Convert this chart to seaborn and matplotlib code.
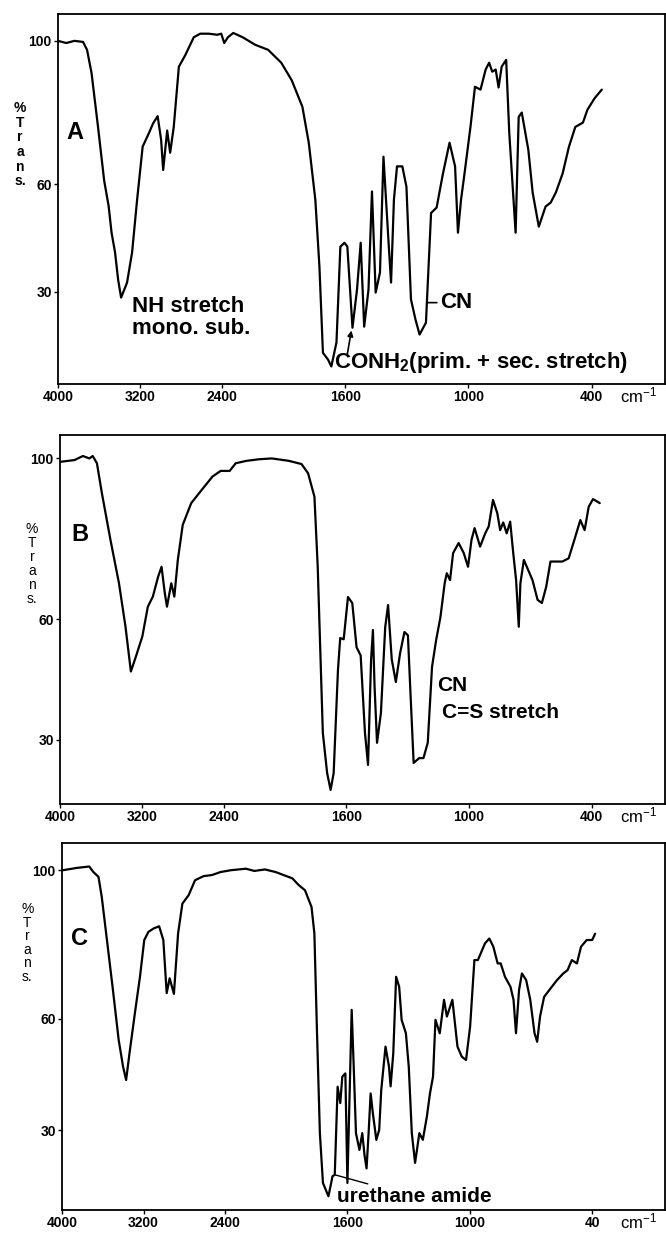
"""
IR spectra of three samples (A, B, C), % transmittance vs wavenumber.
The wavenumber axis uses the usual 2:1 scale change at 2000 cm-1.
"""

import numpy as np
import pandas as pd
import matplotlib
matplotlib.use("Agg")
import matplotlib.pyplot as plt
import seaborn as sns

# ---- spectrum A ----
A_wn = [4000, 3920, 3840, 3756, 3717, 3673, 3610, 3550, 3507, 3478, 3444, 3414, 3385, 3327, 3278,
        3229, 3175, 3112, 3073, 3029, 2995, 2975, 2936, 2907, 2872, 2822, 2760, 2677, 2614, 2531,
        2448, 2409, 2380, 2344, 2292, 2200, 2078, 1976, 1912, 1861, 1809, 1778, 1746, 1726, 1709,
        1684, 1668, 1643, 1624, 1604, 1590, 1565, 1543, 1525, 1508, 1487, 1470, 1452, 1431, 1414,
        1390, 1377, 1363, 1348, 1322, 1302, 1280, 1258, 1238, 1207, 1182, 1155, 1124, 1092, 1065,
        1051, 1036, 1019, 990, 968, 941, 916, 899, 884, 867, 853, 838, 816, 801, 770,
        755, 740, 708, 687, 657, 624, 599, 574, 541, 510, 479, 442, 420, 385, 350]
A_tr = [100, 99.4, 100, 99.7, 97.5, 91, 76, 61, 54, 46.5, 41, 33.4, 28.4, 32.6, 41,
        55.7, 70.5, 74.4, 77, 79, 72.4, 64, 75, 68.8, 76, 92.8, 96, 101, 102, 102,
        101.7, 102, 99.4, 101, 102.2, 101, 98.9, 97.5, 93.9, 89, 81.6, 71.6, 55.7, 37, 13,
        11.1, 9.2, 15.9, 42.6, 43.7, 42.6, 20, 30.6, 43.7, 20.3, 30.6, 58, 29.8, 35.4, 67.7,
        44.6, 32.6, 55.7, 65, 65, 59.3, 27.9, 22.3, 18.1, 21.4, 52, 53.5, 63, 71.6, 65,
        46.5, 55.7, 63, 76, 87.2, 86.4, 92, 93.9, 91.4, 92, 87, 92.8, 94.7, 74.4, 46.5,
        78.8, 80, 69.6, 57.7, 48.2, 53.8, 54.9, 57.7, 63, 70.5, 76, 77.2, 80.8, 84, 86.4]

# ---- spectrum B ----
B_wn = [4000, 3983, 3858, 3776, 3713, 3680, 3639, 3590, 3506, 3424, 3360, 3307, 3258, 3195, 3141,
        3092, 3041, 3007, 2975, 2954, 2912, 2882, 2848, 2800, 2717, 2614, 2509, 2429, 2341, 2282,
        2177, 2052, 1964, 1881, 1819, 1787, 1756, 1740, 1715, 1694, 1677, 1662, 1641, 1630, 1613,
        1592, 1571, 1550, 1530, 1509, 1494, 1479, 1470, 1462, 1450, 1431, 1410, 1396, 1378, 1358,
        1337, 1316, 1299, 1285, 1271, 1244, 1223, 1202, 1181, 1161, 1140, 1119, 1109, 1093, 1078,
        1051, 1026, 1005, 988, 973, 946, 921, 904, 883, 862, 848, 833, 816, 799, 784,
        770, 757, 749, 732, 711, 690, 665, 644, 623, 602, 576, 544, 513, 485, 456,
        435, 415, 394, 377, 361]
B_tr = [99, 99.1, 99.5, 100.5, 99.9, 100.5, 98.7, 91.2, 79.6, 69, 58.2, 47, 50.7, 55.7, 63.1,
        65.6, 70.5, 73, 66.4, 63.1, 68.9, 65.6, 74.7, 83.4, 88.8, 92.1, 95.4, 96.8, 96.8, 98.7,
        99.3, 99.7, 99.9, 99.3, 98.5, 96.2, 90.4, 73, 31.8, 21.8, 17.6, 21.8, 47.4, 55.3, 55,
        65.5, 64, 53, 51, 31.8, 23.8, 50, 57.3, 43.2, 29.3, 36.7, 58, 63.5, 50, 44.4,
        51.6, 56.8, 56, 40, 24.3, 25.5, 25.5, 29.3, 48.2, 54.8, 60.5, 69, 71.4, 69.7, 76.4,
        78.9, 76.4, 73, 79.7, 82.6, 78, 81.3, 83, 89.6, 86.3, 82.1, 84, 81.3, 84.2, 76.4,
        69.7, 58.1, 68.9, 74.7, 72.2, 69.7, 64.8, 64, 68, 74.3, 74.3, 74.3, 75.1, 79.7, 84.6,
        82.1, 87.9, 89.8, 89.3, 88.8]

# ---- spectrum C ----
C_wn = [4000, 3990, 3857, 3733, 3692, 3642, 3610, 3567, 3504, 3444, 3401, 3371, 3338, 3285, 3235,
        3193, 3152, 3102, 3047, 3006, 2973, 2944, 2902, 2861, 2819, 2757, 2695, 2611, 2528, 2445,
        2341, 2196, 2113, 2009, 1952, 1870, 1839, 1808, 1776, 1762, 1749, 1735, 1720, 1693, 1673,
        1662, 1648, 1635, 1625, 1610, 1600, 1589, 1579, 1569, 1558, 1541, 1527, 1516, 1506, 1496,
        1486, 1475, 1458, 1444, 1434, 1413, 1396, 1388, 1375, 1361, 1346, 1334, 1313, 1299, 1284,
        1268, 1247, 1230, 1210, 1195, 1180, 1168, 1147, 1126, 1112, 1085, 1060, 1039, 1018, 998,
        977, 960, 946, 925, 904, 884, 863, 848, 827, 800, 785, 773, 758, 744, 723,
        703, 682, 669, 655, 635, 603, 572, 541, 520, 499, 474, 454, 426, 399, 385]
C_tr = [100, 100, 100.6, 101, 99.5, 98.2, 92.8, 83, 68.6, 54.3, 47.1, 43.5, 50.7, 61.5, 71.3,
        81.2, 83.4, 84.3, 84.9, 81.2, 66.9, 70.9, 66.7, 83, 91, 93.3, 97.3, 98.4, 98.7, 99.5,
        100, 100.4, 99.8, 100.2, 99.5, 97.8, 96, 94.6, 90.1, 83, 56.1, 29.2, 15.8, 12.2, 17.6,
        18, 41.7, 37.3, 44.4, 45.3, 15.8, 40, 62.4, 47.1, 29.2, 24.7, 29.2, 23.3, 19.7, 29.2,
        39.9, 34.5, 27.4, 30.1, 40.8, 52.5, 47.1, 41.8, 50.7, 71.3, 68.6, 59.7, 56.1, 47.1, 29.2,
        21.2, 29.2, 27.4, 33.7, 39.9, 44.4, 59.7, 56.1, 65.1, 60.6, 65.1, 52.5, 49.8, 48.9, 57.9,
        75.8, 75.8, 77.6, 80.3, 81.6, 79.4, 74.9, 74.9, 71.3, 68.6, 65.1, 56.1, 67.7, 72.2, 70.4,
        65.1, 56.1, 53.8, 60.6, 65.9, 68.2, 70.4, 72.2, 73.1, 75.8, 74.9, 79.4, 81.2, 81.2, 82.9]

X_TICKS = [4000, 3200, 2400, 1600, 1000, 400]
X_LABELS = ["4000", "3200", "2400", "1600", "1000", "400"]
X_LABELS_C = ["4000", "3200", "2400", "1600", "1000", "40"]
Y_TICKS = [30, 60, 100]


def wn_forward(w):
    # double scale below 2000 cm-1
    w = np.asarray(w, dtype=float)
    return np.where(w >= 2000, w, 2 * w - 2000)


def wn_inverse(u):
    u = np.asarray(u, dtype=float)
    return np.where(u >= 2000, u, (u + 2000) / 2)


def draw_panel(fig, rect, wn, tr, ylim, xlabels):
    ax = fig.add_axes(rect)
    df = pd.DataFrame({"wn": wn, "tr": tr})
    sns.lineplot(data=df, x="wn", y="tr", ax=ax, color="black", lw=1.6,
                 sort=False, estimator=None)
    ax.set_xscale("function", functions=(wn_forward, wn_inverse))
    ax.set_xlim(4000, 42)
    ax.set_ylim(*ylim)
    ax.set_xticks(X_TICKS)
    ax.set_xticklabels(X_LABELS if xlabels is None else xlabels)
    ax.set_yticks(Y_TICKS)
    ax.set_yticklabels([str(t) for t in Y_TICKS])
    ax.minorticks_off()
    ax.tick_params(axis="both", direction="out", length=3, width=1.0,
                   labelsize=10, pad=1.5, colors="black")
    for lbl in ax.get_xticklabels() + ax.get_yticklabels():
        lbl.set_fontweight("bold")
    ax.set_xlabel("")
    ax.set_ylabel("")
    for sp in ax.spines.values():
        sp.set_linewidth(1.3)
        sp.set_color("black")
    ax.text(262, -0.032, "cm$^{-1}$", transform=ax.get_xaxis_transform(),
            ha="left", va="center", fontsize=12)
    return ax


def main():
    sns.set_style("ticks")
    plt.rcParams["font.family"] = ["Liberation Sans", "DejaVu Sans"]
    plt.rcParams["mathtext.default"] = "regular"
    plt.rcParams["text.color"] = "black"

    fig = plt.figure(figsize=(6.66, 12.36), dpi=100)

    # Panel A
    ax_a = draw_panel(fig, [0.0871, 0.6893, 0.9114, 0.2994], A_wn, A_tr, (4.3, 107.5), None)
    ax_a.text(3834, 74.4, "A", fontsize=17, fontweight="bold", ha="center", va="center")
    ax_a.text(3278, 25.9, "NH stretch", fontsize=16, fontweight="bold", ha="left", va="center")
    ax_a.text(3278, 19.8, "mono. sub.", fontsize=16, fontweight="bold", ha="left", va="center")
    ax_a.annotate("CN", xy=(1196, 27), xytext=(1138, 27), fontsize=16, fontweight="bold",
                  ha="left", va="center",
                  arrowprops=dict(arrowstyle="-", color="black", lw=1.2, shrinkA=0, shrinkB=0))
    ax_a.text(1653, 10.4, "CONH$_2$(prim. + sec. stretch)", fontsize=16, fontweight="bold",
              ha="left", va="center")
    ax_a.annotate("", xy=(1568, 20), xytext=(1592, 12),
                  arrowprops=dict(arrowstyle="-|>", color="black", lw=1.2, mutation_scale=8))
    fig.text(0.030, 0.918, "%\nT\nr\na\nn\ns.", ha="center", va="top",
             fontsize=10, fontweight="bold", linespacing=1.05)

    # Panel B
    ax_b = draw_panel(fig, [0.0901, 0.3495, 0.9084, 0.2985], B_wn, B_tr, (14.1, 105.7), None)
    ax_b.text(3805, 80.9, "B", fontsize=17, fontweight="bold", ha="center", va="center")
    ax_b.text(1155, 43.5, "CN", fontsize=15, fontweight="bold", ha="left", va="center")
    ax_b.text(1131, 36.7, "C=S stretch", fontsize=15, fontweight="bold", ha="left", va="center")
    fig.text(0.048, 0.578, "%\nT\nr\na\nn\ns.", ha="center", va="top",
             fontsize=10, linespacing=1.0)

    # Panel C
    ax_c = draw_panel(fig, [0.0931, 0.0210, 0.9054, 0.2969], C_wn, C_tr, (8.5, 107.3), X_LABELS_C)
    ax_c.text(3824, 81.7, "C", fontsize=17, fontweight="bold", ha="center", va="center")
    ax_c.annotate("urethane amide", xy=(1662, 18), xytext=(1653, 12.1), fontsize=15,
                  fontweight="bold", ha="left", va="center",
                  arrowprops=dict(arrowstyle="-", color="black", lw=1.0, shrinkA=0, shrinkB=0))
    fig.text(0.041, 0.270, "%\nT\nr\na\nn\ns.", ha="center", va="top",
             fontsize=10, linespacing=0.95)

    fig.savefig("out.png", dpi=100)
    plt.close(fig)


if __name__ == "__main__":
    main()
